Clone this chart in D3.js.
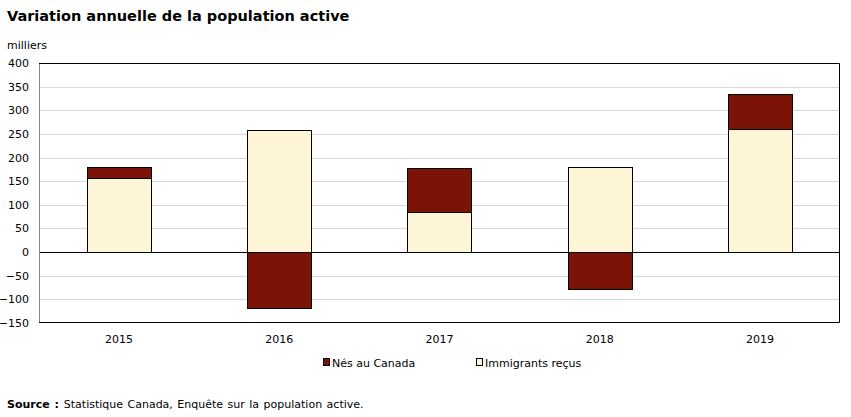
<!DOCTYPE html>
<html>
<head>
<meta charset="utf-8">
<script src="https://cdn.jsdelivr.net/npm/d3@7"></script>
<style>
  body { margin: 0; background: #fff; }
  text { font-family: "DejaVu Sans", Verdana, sans-serif; fill: #000; }
</style>
</head>
<body>
<script>
// Variation annuelle de la population active (milliers)
var years = ["2015", "2016", "2017", "2018", "2019"];
var nesAuCanada = [22, -119, 92, -79, 74];
var immigrants = [157, 258, 85, 181, 260];
var yTicks = [-150, -100, -50, 0, 50, 100, 150, 200, 250, 300, 350, 400];
var seriesNames = ["Nés au Canada", "Immigrants reçus"];
var seriesColors = ["#7b1306", "#fef5d6"];

var w_svg = 851, h_svg = 417;
var left = 39, right = 840, top_ = 63, bottom = 323;

var svg = d3.select("body").append("svg")
  .attr("width", w_svg).attr("height", h_svg);

var xScale = d3.scaleBand().domain(years).range([left, right]).paddingInner(0).paddingOuter(0);
var yScale = d3.scaleLinear().domain([-150, 400]).range([bottom, top_]);
var barW = xScale.bandwidth() * 0.4;

// title
svg.append("text").attr("x", 7).attr("y", 21)
  .style("font-size", "14.5px").style("font-weight", "bold")
  .text("Variation annuelle de la population active");

svg.append("text").attr("x", 7).attr("y", 49)
  .style("font-size", "11px").text("milliers");

// gridlines
svg.append("g").selectAll("line")
  .data(yTicks.filter(function(d) { return d != 0 && d != 400 && d != -150; }))
  .enter().append("line")
  .attr("x1", left).attr("x2", right)
  .attr("y1", function(d) { return Math.round(yScale(d)) + 0.5; })
  .attr("y2", function(d) { return Math.round(yScale(d)) + 0.5; })
  .attr("stroke", "#d9d9d9").attr("stroke-width", 1);

// y axis labels
var y_axis = d3.axisLeft(yScale).tickValues(yTicks).tickSize(0).tickPadding(10);
var gy = svg.append("g").attr("transform", "translate(" + left + ",0)").call(y_axis);
gy.select(".domain").remove();
gy.selectAll("text").style("font-size", "11px").style("font-family", "DejaVu Sans, Verdana, sans-serif");

// stacked bars (positive and negative separately)
var dataset = years.map(function(y, i) {
  var segs = [];
  var pos = 0, neg = 0;
  [immigrants[i], nesAuCanada[i]].forEach(function(v, k) {
    var s = k == 0 ? 1 : 0; // series index in color list
    if (v >= 0) { segs.push({year: y, y0: pos, y1: pos + v, c: seriesColors[s]}); pos += v; }
    else { segs.push({year: y, y0: neg + v, y1: neg, c: seriesColors[s]}); neg += v; }
  });
  return segs;
});

svg.append("g").selectAll("rect")
  .data(d3.merge(dataset))
  .enter().append("rect")
  .attr("x", function(d) { return Math.round(xScale(d.year) + (xScale.bandwidth() - barW) / 2) + 0.5; })
  .attr("y", function(d) { return Math.round(yScale(d.y1)) + 0.5; })
  .attr("width", Math.round(barW))
  .attr("height", function(d) { return Math.round(yScale(d.y0)) - Math.round(yScale(d.y1)); })
  .attr("fill", function(d) { return d.c; })
  .attr("stroke", "#000").attr("stroke-width", 1);

// zero line
svg.append("line")
  .attr("x1", left).attr("x2", right)
  .attr("y1", Math.round(yScale(0)) + 0.5).attr("y2", Math.round(yScale(0)) + 0.5)
  .attr("stroke", "#000");

// frame: gray left, black top/right/bottom
svg.append("line").attr("x1", left + 0.5).attr("x2", left + 0.5)
  .attr("y1", top_).attr("y2", bottom).attr("stroke", "#888");
svg.append("path")
  .attr("d", "M" + left + "," + (top_ + 0.5) + "H" + (right - 0.5) + "V" + (bottom - 0.5) + "H" + left)
  .attr("fill", "none").attr("stroke", "#000");

// x labels
var x_axis = d3.axisBottom(xScale).tickSize(0).tickPadding(12);
var gx = svg.append("g").attr("transform", "translate(0," + bottom + ")").call(x_axis);
gx.select(".domain").remove();
gx.selectAll("text").style("font-size", "11px").style("font-family", "DejaVu Sans, Verdana, sans-serif");

// legend
var legX = [323, 476];
seriesNames.forEach(function(n, i) {
  svg.append("rect").attr("x", legX[i] + 0.5).attr("y", 358.5).attr("width", 6).attr("height", 7)
    .attr("fill", seriesColors[i]).attr("stroke", "#000");
  svg.append("text").attr("x", legX[i] + 9).attr("y", 367)
    .style("font-size", "11px").text(n);
});

// source
var src = svg.append("text").attr("x", 7).attr("y", 408).style("font-size", "11px").style("word-spacing", "1px");
src.append("tspan").style("font-weight", "bold").text("Source : ");
src.append("tspan").text("Statistique Canada, Enquête sur la population active.");
</script>
</body>
</html>
